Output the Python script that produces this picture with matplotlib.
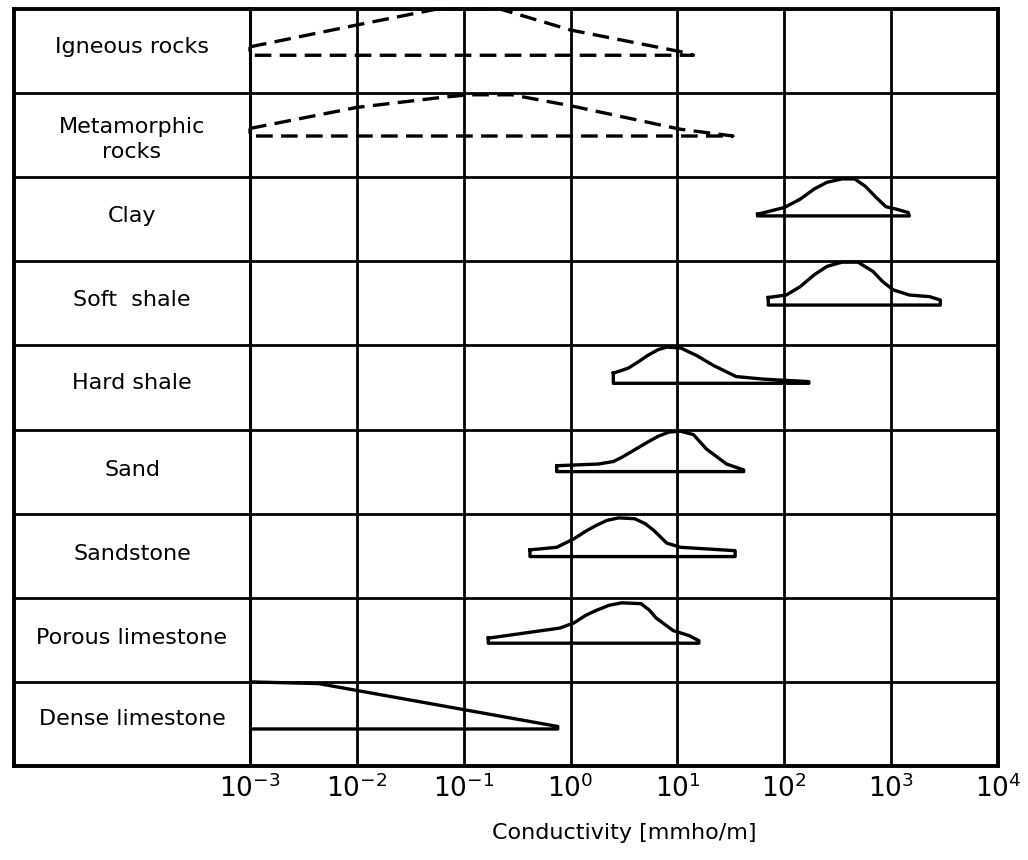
import matplotlib
matplotlib.use("Agg")
import matplotlib.pyplot as plt
import numpy as np

# rock types, top to bottom
rocks = ["Igneous rocks", "Metamorphic\nrocks", "Clay", "Soft  shale", "Hard shale",
         "Sand", "Sandstone", "Porous limestone", "Dense limestone"]

# each curve: log10 of conductivity (mmho/m) and height as fraction of the row from its top
igneous_lx = [-3, -2, -1.25, -0.66, 0, 1.08, 1.15]
igneous_h = [0.45, 0.19, 0.0, 0.0, 0.25, 0.52, 0.55]
igneous_base = 0.55

metamorphic_lx = [-3, -2, -1.2, -0.95, -0.55, 0, 1.03, 1.52]
metamorphic_h = [0.42, 0.17, 0.05, 0.02, 0.02, 0.15, 0.43, 0.51]
metamorphic_base = 0.51

clay_lx = [1.75, 2.0, 2.15, 2.28, 2.40, 2.54, 2.66, 2.76, 2.86, 2.95, 3.05, 3.16, 3.17]
clay_h = [0.44, 0.36, 0.26, 0.14, 0.06, 0.02, 0.02, 0.11, 0.24, 0.35, 0.38, 0.42, 0.46]
clay_base = 0.46

soft_lx = [1.85, 2.02, 2.15, 2.28, 2.40, 2.54, 2.69, 2.83, 2.92, 3.02, 3.17, 3.36, 3.46]
soft_h = [0.43, 0.40, 0.30, 0.16, 0.06, 0.01, 0.01, 0.12, 0.24, 0.34, 0.40, 0.42, 0.46]
soft_base = 0.52

hard_lx = [0.40, 0.54, 0.64, 0.72, 0.82, 0.90, 1.03, 1.18, 1.34, 1.55, 1.80, 2.23]
hard_h = [0.33, 0.27, 0.19, 0.12, 0.05, 0.02, 0.03, 0.12, 0.24, 0.37, 0.40, 0.43]
hard_base = 0.45

sand_lx = [-0.13, 0.26, 0.40, 0.48, 0.60, 0.72, 0.82, 0.92, 1.03, 1.15, 1.27, 1.46, 1.62]
sand_h = [0.43, 0.41, 0.38, 0.33, 0.24, 0.15, 0.08, 0.03, 0.02, 0.06, 0.23, 0.41, 0.48]
sand_base = 0.50

sandstone_lx = [-0.38, -0.13, 0.03, 0.14, 0.24, 0.34, 0.45, 0.60, 0.70, 0.78, 0.90, 1.03, 1.54]
sandstone_h = [0.43, 0.40, 0.30, 0.21, 0.14, 0.08, 0.05, 0.06, 0.12, 0.20, 0.35, 0.40, 0.44]
sandstone_base = 0.51

porous_lx = [-0.77, -0.10, 0.03, 0.14, 0.24, 0.36, 0.48, 0.66, 0.74, 0.80, 0.96, 1.11, 1.20]
porous_h = [0.48, 0.36, 0.30, 0.21, 0.15, 0.09, 0.06, 0.07, 0.15, 0.24, 0.39, 0.45, 0.51]
porous_base = 0.54

dense_lx = [-3, -2.36, -0.12]
dense_h = [0.0, 0.02, 0.53]
dense_base = 0.56

curves = [(igneous_lx, igneous_h, igneous_base),
          (metamorphic_lx, metamorphic_h, metamorphic_base),
          (clay_lx, clay_h, clay_base),
          (soft_lx, soft_h, soft_base),
          (hard_lx, hard_h, hard_base),
          (sand_lx, sand_h, sand_base),
          (sandstone_lx, sandstone_h, sandstone_base),
          (porous_lx, porous_h, porous_base),
          (dense_lx, dense_h, dense_base)]
dashed = [True, True, False, False, False, False, False, False, False]
label_pos = [0.45, 0.55, 0.46, 0.46, 0.45, 0.48, 0.48, 0.48, 0.44]

decades = [-3, -2, -1, 0, 1, 2, 3, 4]
tick_labels = [r"$10^{%d}$" % d for d in decades]

fig = plt.figure(figsize=(10.28, 8.6), dpi=100)
W, H = 1028, 860
# label column first so it does not cover the left spine of the plot
axl = fig.add_axes([14 / W, (H - 766) / H, 236 / W, 757 / H])
ax = fig.add_axes([250 / W, (H - 766) / H, 748 / W, 757 / H])

nrow = len(rocks)
ax.set_xscale("log")
ax.set_xlim(10.0 ** decades[0], 10.0 ** decades[-1])
ax.set_ylim(nrow, 0)
ax.set_xticks([10.0 ** d for d in decades])
ax.set_xticklabels(tick_labels, fontsize=19)
ax.xaxis.set_minor_locator(matplotlib.ticker.NullLocator())
ax.tick_params(axis="x", length=0, pad=6)
ax.set_yticks([])
for d in decades[1:-1]:
    ax.axvline(10.0 ** d, color="black", lw=2.0, zorder=1)
for i in range(1, nrow):
    ax.axhline(i, color="black", lw=2.0, zorder=1)
    axl.axhline(i, color="black", lw=2.0)
for a in (ax, axl):
    for s in a.spines.values():
        s.set_linewidth(2.8)
ax.spines["left"].set_linewidth(2.2)

for i, (lx, h, base) in enumerate(curves):
    xs = [10.0 ** v for v in lx] + [10.0 ** lx[-1], 10.0 ** lx[0], 10.0 ** lx[0]]
    ys = [i + v for v in h] + [i + base, i + base, i + h[0]]
    if dashed[i]:
        ax.plot(xs, ys, color="black", lw=2.4, dashes=(5, 2.5), zorder=3, clip_on=False,
                dash_capstyle="butt")
    else:
        ax.plot(xs, ys, color="black", lw=2.4, zorder=3, solid_joinstyle="round")

axl.set_xlim(0, 1)
axl.set_ylim(nrow, 0)
axl.set_xticks([])
axl.set_yticks([])
axl.spines["right"].set_visible(False)
for i, name in enumerate(rocks):
    axl.text(0.5, i + label_pos[i], name, ha="center", va="center", fontsize=16,
             linespacing=1.3)

fig.text(624 / W, 1 - 833 / H, "Conductivity [mmho/m]", ha="center", va="center", fontsize=16)

fig.savefig("out.png", dpi=100)
